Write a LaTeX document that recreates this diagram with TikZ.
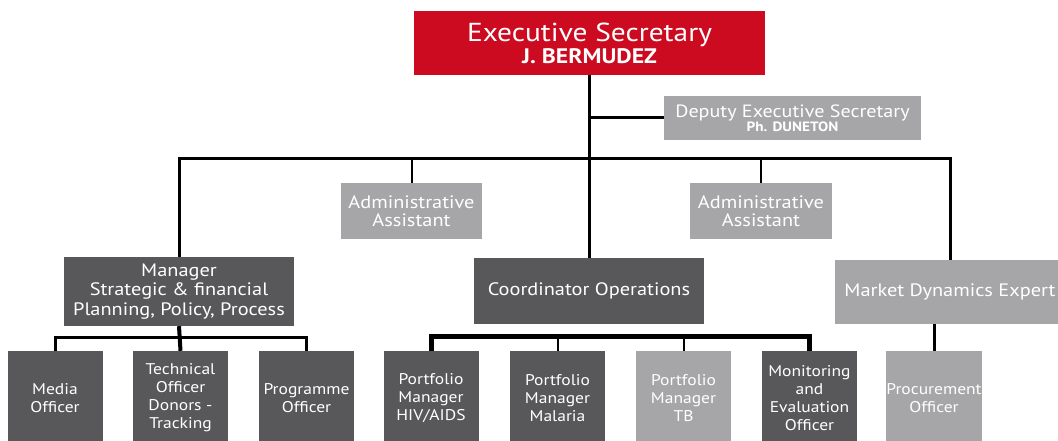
\documentclass[tikz,border=0pt]{standalone}
\usepackage{fontspec}
\setmainfont[FakeStretch=1.13]{PT Sans}
\definecolor{exred}{RGB}{204,10,32}
\definecolor{dgray}{RGB}{88,88,90}
\definecolor{lgray}{RGB}{166,166,168}
\begin{document}
\begin{tikzpicture}[x=1pt,y=-1pt,
  box/.style={inner sep=0pt, text=white, align=center, font=\fontsize{18}{18.5}\selectfont},
  dark/.style={box, fill=dgray},
  light/.style={box, fill=lgray},
  small/.style={font=\fontsize{15.5}{18}\selectfont, minimum width=95pt, minimum height=94pt},
  mainline/.style={line width=3pt, black},
  thinline/.style={line width=2pt, black},
  thickline/.style={line width=5pt, black}]
\useasboundingbox (0,0) rectangle (1058,441);
% nodes
\node[box, fill=exred, minimum width=351pt, minimum height=64pt, font=\fontsize{26}{22}\selectfont] (exec) at (589.5,43)
  {Executive Secretary\\{\fontsize{21}{22}\selectfont\bfseries J. BERMUDEZ}};
\node[light, minimum width=257pt, minimum height=44pt, font=\fontsize{17.8}{14}\selectfont] (deputy) at (792.5,118)
  {Deputy Executive Secretary\\{\fontsize{13.5}{14}\selectfont\bfseries Ph. DUNETON}};
\node[light, minimum width=141pt, minimum height=56pt] (admin1) at (411.5,211) {Administrative\\Assistant};
\node[light, minimum width=142pt, minimum height=56pt] (admin2) at (761,211) {Administrative\\Assistant};
\node[dark, minimum width=230pt, minimum height=69pt, font=\fontsize{18}{19.5}\selectfont] (manager) at (179,291.5) {Manager\\Strategic \& financial\\Planning, Policy, Process};
\node[dark, minimum width=230pt, minimum height=66pt] (coord) at (589,291) {Coordinator Operations};
\node[light, minimum width=230pt, minimum height=64pt] (market) at (950,292) {Market Dynamics Expert};
\node[dark, small] (media) at (55,398) {Media\\Officer};
\node[dark, small] (tech) at (180.5,398) {Technical\\Officer\\Donors -\\Tracking};
\node[dark, small] (prog) at (306.5,398) {Programme\\Officer};
\node[dark, small] (hiv) at (431,398) {Portfolio\\Manager\\HIV/AIDS};
\node[dark, small] (malaria) at (557.5,398) {Portfolio\\Manager\\Malaria};
\node[light, small] (tb) at (683.5,398) {Portfolio\\Manager\\TB};
\node[dark, small] (me) at (809.5,398) {Monitoring\\and\\Evaluation\\Officer};
\node[light, small] (proc) at (934,398) {Procurement\\Officer};
% bus coordinates
\coordinate (hb) at (590,159);
\coordinate (mb) at (180,337);
\coordinate (cb) at (600,336);
% connectors
\draw[mainline] (exec.south) -- (exec.south |- coord.north);
\draw[mainline] (exec.south |- deputy.west) -- (deputy.west);
\draw[mainline] (manager.north) |- (hb) -| (market.north);
\draw[thinline] (admin1.north) -- (admin1.north |- hb);
\draw[thinline] (admin2.north) -- (admin2.north |- hb);
\draw[mainline] (media.north) |- (mb) -| (prog.north);
\draw[line width=4pt] (manager.south) -- (tech.north);
\draw[thickline] (hiv.north) |- (cb) -| (me.north);
\draw[thinline] (malaria.north) -- (malaria.north |- cb);
\draw[thinline] (tb.north) -- (tb.north |- cb);
\draw[mainline] (market.south -| proc.north) -- (proc.north);
\end{tikzpicture}
\end{document}
